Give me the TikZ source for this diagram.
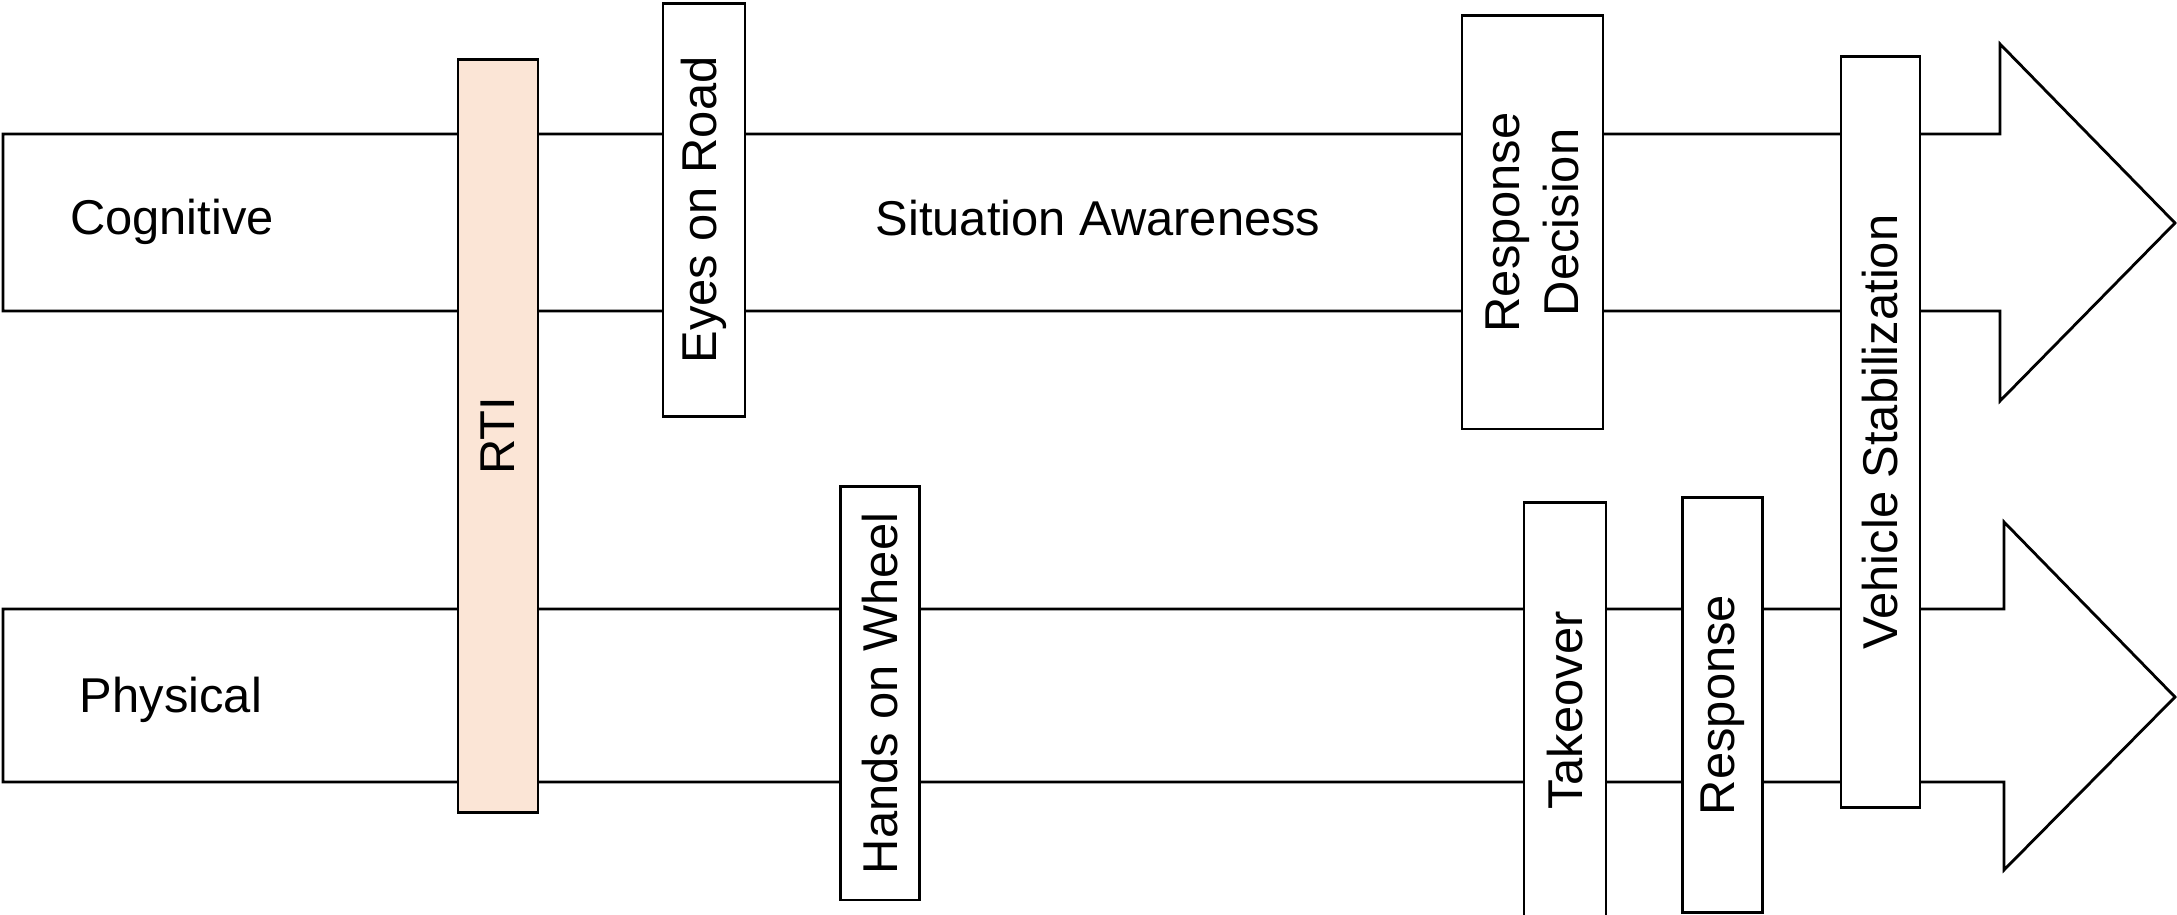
\documentclass[tikz,border=0pt]{standalone}
\usepackage{fontspec}
\setmainfont{Liberation Sans}
\definecolor{peach}{HTML}{FBE5D6}
\begin{document}
\begin{tikzpicture}[x=0.01cm, y=-0.01cm,
  line width=0.8pt,
  font=\fontsize{13.9}{17}\selectfont,
  lane/.style={draw=black, fill=white, line join=miter},
  phase/.style={draw=black, fill=white, rectangle, rotate=90, inner sep=0pt,
                align=center},
  lanelabel/.style={inner sep=0pt}]
\useasboundingbox (0,0) rectangle (2177,915);

% lane arrows
\draw[lane] (3,134) -- (2000,134) -- (2000,44) -- (2175,223) -- (2000,401)
  -- (2000,311) -- (3,311) -- cycle;
\draw[lane] (3,609) -- (2004,609) -- (2004,522) -- (2175,697) -- (2004,870)
  -- (2004,782) -- (3,782) -- cycle;

\node[lanelabel] (cog) at (172,222) {Cognitive};
\node[lanelabel] (phys) at (171,700) {Physical};
\node[lanelabel] (sa) at (1098,218) {Situation Awareness};

% phase bars crossing the lanes
\node[phase, fill=peach, minimum width=7.52cm, minimum height=0.80cm] (rti) at (498,436) {RTI};
\node[phase, minimum width=4.135cm, minimum height=0.82cm] (eyes) at (704,210) {Eyes on Road};
\node[phase, minimum width=4.13cm, minimum height=1.41cm] (decision) at (1532.5,222.4) {Response\\Decision};
\node[phase, minimum width=7.50cm, minimum height=0.79cm] (stab) at (1880.5,432) {Vehicle Stabilization};
\node[phase, minimum width=4.13cm, minimum height=0.79cm] (hands) at (880,693.4) {Hands on Wheel};
\node[phase, minimum width=4.15cm, minimum height=0.82cm] (takeover) at (1565,710.5) {Takeover};
\node[phase, minimum width=4.14cm, minimum height=0.80cm] (response) at (1722.6,705) {Response};
\end{tikzpicture}
\end{document}
